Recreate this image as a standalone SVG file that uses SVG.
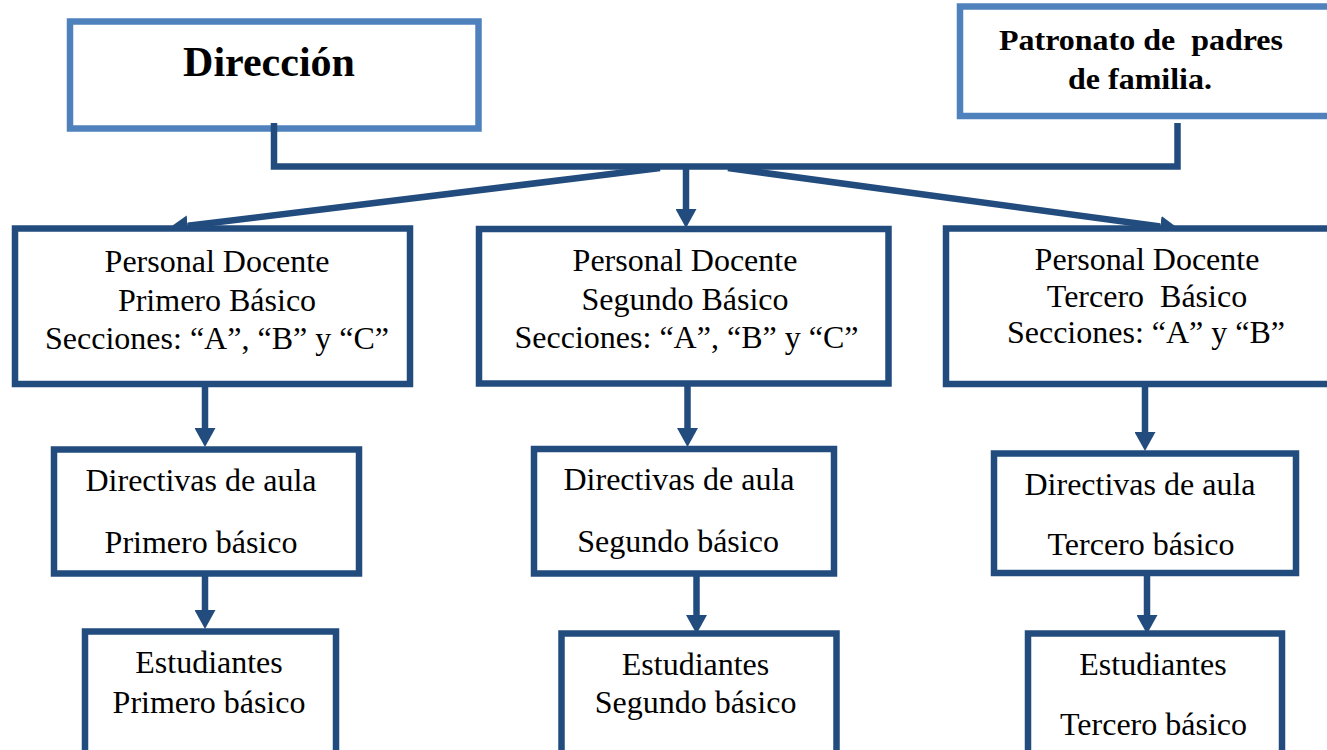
<svg xmlns="http://www.w3.org/2000/svg" width="1327" height="750" viewBox="0 0 1327 750">
<style>
.box{fill:#fff;stroke:#234C7E;stroke-width:6.5}
.top{fill:#fff;stroke:#4F81BD;stroke-width:6.5}
.t{font-family:"Liberation Serif","Times New Roman",serif;font-size:32px;fill:#000;text-anchor:middle}
.b{font-family:"Liberation Serif","Times New Roman",serif;font-weight:bold;fill:#000;text-anchor:middle}
.c{fill:none;stroke:#234C7E;stroke-width:6.5}
</style>
<defs>
<marker id="ah" markerUnits="userSpaceOnUse" markerWidth="19" markerHeight="21" refX="0" refY="10.5" orient="auto" viewBox="0 0 19 21">
<path d="M0,0 L19,10.5 L0,21 z" fill="#234C7E"/>
</marker>
</defs>
<rect width="1327" height="750" fill="#fff"/>
<g id="direccion">
<rect class="top" x="70" y="21.5" width="408.5" height="107"/>
<text class="b" x="269" y="76" font-size="42">Dirección</text>
</g>
<g id="patronato">
<rect class="top" x="960" y="6.5" width="380" height="109.5"/>
<text class="b" font-size="29" xml:space="preserve"><tspan x="1141" y="50" textLength="284" lengthAdjust="spacingAndGlyphs">Patronato de  padres</tspan><tspan x="1140" y="89" textLength="144" lengthAdjust="spacingAndGlyphs">de familia.</tspan></text>
</g>
<g id="connectors">
<path class="c" d="M274,123 V166.5 H1177.5 V123"/>
<line class="c" x1="660" y1="168" x2="187.9" y2="225.8" marker-end="url(#ah)"/>
<line class="c" x1="686" y1="167" x2="686" y2="209" marker-end="url(#ah)"/>
<line class="c" x1="728" y1="168" x2="1160.2" y2="226.5" marker-end="url(#ah)"/>
<line class="c" x1="205" y1="384" x2="205" y2="428" marker-end="url(#ah)"/>
<line class="c" x1="205" y1="573" x2="205" y2="610" marker-end="url(#ah)"/>
<line class="c" x1="687.5" y1="383" x2="687.5" y2="428" marker-end="url(#ah)"/>
<line class="c" x1="696.5" y1="573" x2="696.5" y2="615" marker-end="url(#ah)"/>
<line class="c" x1="1145" y1="384" x2="1145" y2="432" marker-end="url(#ah)"/>
<line class="c" x1="1147" y1="573" x2="1147" y2="615" marker-end="url(#ah)"/>
</g>
<g id="docente1">
<rect class="box" x="15" y="228.5" width="395" height="155.5"/>
<text class="t"><tspan x="217" y="272">Personal Docente</tspan><tspan x="217" y="311">Primero Básico</tspan><tspan x="217" y="349">Secciones: “A”, “B” y “C”</tspan></text>
</g>
<g id="docente2">
<rect class="box" x="479" y="229" width="409.5" height="154.5"/>
<text class="t"><tspan x="685" y="271">Personal Docente</tspan><tspan x="685" y="310">Segundo Básico</tspan><tspan x="686.5" y="348">Secciones: “A”, “B” y “C”</tspan></text>
</g>
<g id="docente3">
<rect class="box" x="946" y="228.5" width="390" height="155.5"/>
<text class="t" xml:space="preserve"><tspan x="1147" y="270">Personal Docente</tspan><tspan x="1147" y="307">Tercero  Básico</tspan><tspan x="1146" y="343">Secciones: “A” y “B”</tspan></text>
</g>
<g id="directivas1">
<rect class="box" x="54" y="449.5" width="305" height="124"/>
<text class="t"><tspan x="201" y="491">Directivas de aula</tspan><tspan x="201" y="553">Primero básico</tspan></text>
</g>
<g id="directivas2">
<rect class="box" x="534" y="449" width="300" height="124.5"/>
<text class="t"><tspan x="679" y="490">Directivas de aula</tspan><tspan x="678" y="552">Segundo básico</tspan></text>
</g>
<g id="directivas3">
<rect class="box" x="994" y="453.5" width="302" height="119.5"/>
<text class="t"><tspan x="1140" y="495">Directivas de aula</tspan><tspan x="1141" y="555">Tercero básico</tspan></text>
</g>
<g id="estudiantes1">
<rect class="box" x="85" y="631.5" width="251" height="140"/>
<text class="t"><tspan x="209" y="673">Estudiantes</tspan><tspan x="209" y="713">Primero básico</tspan></text>
</g>
<g id="estudiantes2">
<rect class="box" x="561.5" y="633.5" width="275" height="140"/>
<text class="t"><tspan x="695.5" y="675">Estudiantes</tspan><tspan x="695.5" y="713">Segundo básico</tspan></text>
</g>
<g id="estudiantes3">
<rect class="box" x="1028" y="633.5" width="254" height="140"/>
<text class="t"><tspan x="1153" y="675">Estudiantes</tspan><tspan x="1153.5" y="735">Tercero básico</tspan></text>
</g>
</svg>
